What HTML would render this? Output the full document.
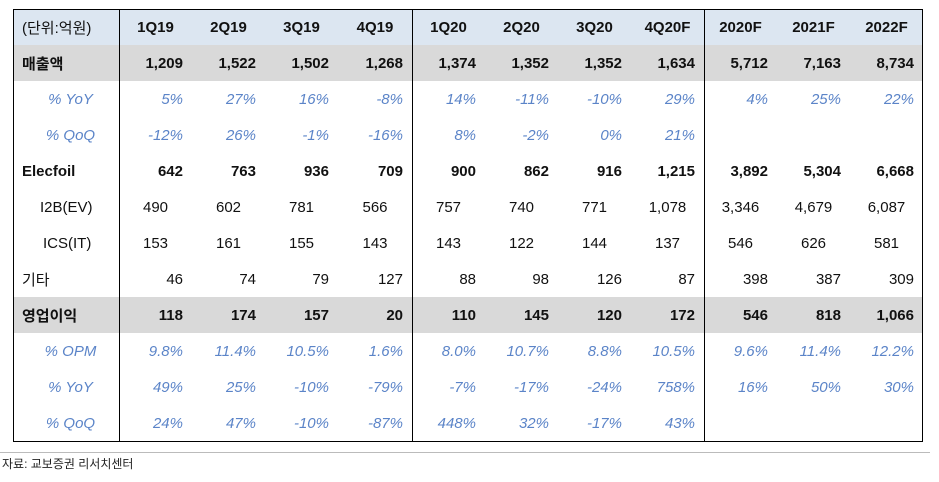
<!DOCTYPE html>
<html><head><meta charset="utf-8">
<style>
body{margin:0;width:939px;height:482px;background:#fff;position:relative;overflow:hidden;font-family:"Liberation Sans","Noto Sans CJK KR",sans-serif;}
table{position:absolute;left:13px;top:9px;border-collapse:collapse;table-layout:fixed;width:910px;}
td{height:36px;padding:0;font-size:15px;color:#111;white-space:nowrap;}
tr.hdr td{background:#dce6f1;font-weight:bold;text-align:center;}
tr.hdr td.lab{font-weight:normal;text-align:left;padding-left:9px;}
tr.gray td{background:#d9d9d9;}
tr.b td{font-weight:bold;}
tr.b td.v{text-align:right;padding-right:9px;}
tr.p td{color:#5b84c8;font-style:italic;text-align:right;padding-right:9px;}
tr.p td.lab{text-align:center;padding-right:0;}
tr.s td{text-align:center;}
td.lab{text-align:left;padding-left:9px;}
tr.s td.lab{padding-left:27px;text-align:left;}
.vl{position:absolute;top:9px;height:433px;width:1.5px;background:#000;}
</style></head><body>
<div style="position:absolute;left:13px;top:9px;width:908px;height:431px;border:1.5px solid #000;z-index:2"></div>
<div class="vl" style="left:118.5px;z-index:2"></div>
<div class="vl" style="left:411.5px;z-index:2"></div>
<div class="vl" style="left:703.5px;z-index:2"></div>
<table>
<colgroup><col style="width:106px"><col style="width:73px"><col style="width:73px"><col style="width:73px"><col style="width:74px"><col style="width:73px"><col style="width:73px"><col style="width:73px"><col style="width:73px"><col style="width:73px"><col style="width:73px"><col style="width:73px"></colgroup>
<tr class="hdr"><td class="lab">(단위:억원)</td><td>1Q19</td><td>2Q19</td><td>3Q19</td><td>4Q19</td><td>1Q20</td><td>2Q20</td><td>3Q20</td><td>4Q20F</td><td>2020F</td><td>2021F</td><td>2022F</td></tr>
<tr class="b gray"><td class="lab">매출액</td><td class="v">1,209</td><td class="v">1,522</td><td class="v">1,502</td><td class="v">1,268</td><td class="v">1,374</td><td class="v">1,352</td><td class="v">1,352</td><td class="v">1,634</td><td class="v">5,712</td><td class="v">7,163</td><td class="v">8,734</td></tr>
<tr class="p"><td class="lab">% YoY</td><td>5%</td><td>27%</td><td>16%</td><td>-8%</td><td>14%</td><td>-11%</td><td>-10%</td><td>29%</td><td>4%</td><td>25%</td><td>22%</td></tr>
<tr class="p"><td class="lab">% QoQ</td><td>-12%</td><td>26%</td><td>-1%</td><td>-16%</td><td>8%</td><td>-2%</td><td>0%</td><td>21%</td><td></td><td></td><td></td></tr>
<tr class="b"><td class="lab">Elecfoil</td><td class="v">642</td><td class="v">763</td><td class="v">936</td><td class="v">709</td><td class="v">900</td><td class="v">862</td><td class="v">916</td><td class="v">1,215</td><td class="v">3,892</td><td class="v">5,304</td><td class="v">6,668</td></tr>
<tr class="s"><td class="lab">I2B(EV)</td><td>490</td><td>602</td><td>781</td><td>566</td><td>757</td><td>740</td><td>771</td><td>1,078</td><td>3,346</td><td>4,679</td><td>6,087</td></tr>
<tr class="s"><td class="lab" style="padding-left:30px">ICS(IT)</td><td>153</td><td>161</td><td>155</td><td>143</td><td>143</td><td>122</td><td>144</td><td>137</td><td>546</td><td>626</td><td>581</td></tr>
<tr class="b" style="font-weight:normal"><td class="lab" style="font-weight:normal">기타</td><td class="v" style="font-weight:normal">46</td><td class="v" style="font-weight:normal">74</td><td class="v" style="font-weight:normal">79</td><td class="v" style="font-weight:normal">127</td><td class="v" style="font-weight:normal">88</td><td class="v" style="font-weight:normal">98</td><td class="v" style="font-weight:normal">126</td><td class="v" style="font-weight:normal">87</td><td class="v" style="font-weight:normal">398</td><td class="v" style="font-weight:normal">387</td><td class="v" style="font-weight:normal">309</td></tr>
<tr class="b gray"><td class="lab">영업이익</td><td class="v">118</td><td class="v">174</td><td class="v">157</td><td class="v">20</td><td class="v">110</td><td class="v">145</td><td class="v">120</td><td class="v">172</td><td class="v">546</td><td class="v">818</td><td class="v">1,066</td></tr>
<tr class="p"><td class="lab">% OPM</td><td>9.8%</td><td>11.4%</td><td>10.5%</td><td>1.6%</td><td>8.0%</td><td>10.7%</td><td>8.8%</td><td>10.5%</td><td>9.6%</td><td>11.4%</td><td>12.2%</td></tr>
<tr class="p"><td class="lab">% YoY</td><td>49%</td><td>25%</td><td>-10%</td><td>-79%</td><td>-7%</td><td>-17%</td><td>-24%</td><td>758%</td><td>16%</td><td>50%</td><td>30%</td></tr>
<tr class="p"><td class="lab">% QoQ</td><td>24%</td><td>47%</td><td>-10%</td><td>-87%</td><td>448%</td><td>32%</td><td>-17%</td><td>43%</td><td></td><td></td><td></td></tr>
</table>
<div style="position:absolute;left:0;top:452px;width:930px;height:1px;background:#bbb"></div>
<div style="position:absolute;left:2px;top:455px;font-size:12px;color:#222">자료: 교보증권 리서치센터</div>
</body></html>
